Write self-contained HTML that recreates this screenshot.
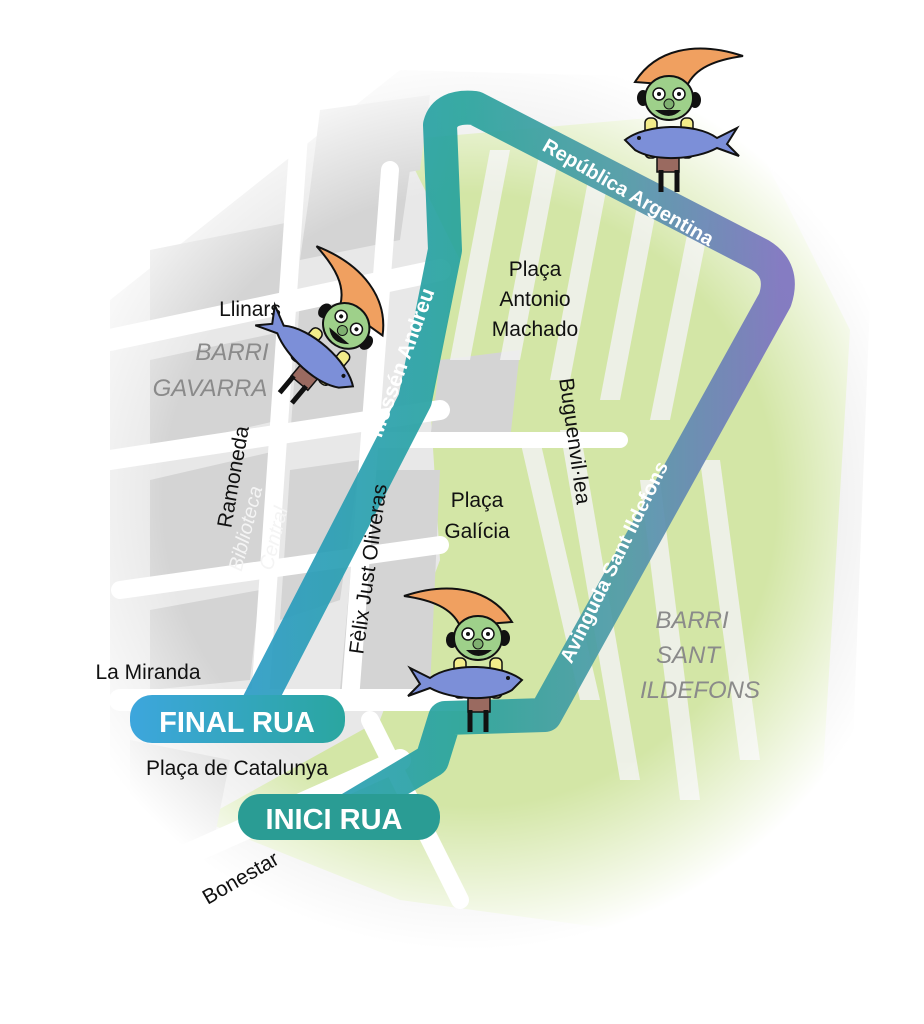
<!DOCTYPE html>
<html><head><meta charset="utf-8"><style>
html,body{margin:0;padding:0;background:#fff;}
svg{display:block}
text{font-family:"Liberation Sans",sans-serif;}
</style></head><body>
<svg width="924" height="1024" viewBox="0 0 924 1024" xmlns="http://www.w3.org/2000/svg">
<defs>
<radialGradient id="fade" cx="470" cy="500" r="450" gradientUnits="userSpaceOnUse">
<stop offset="0.68" stop-color="#fff" stop-opacity="0"/>
<stop offset="1" stop-color="#fff" stop-opacity="1"/>
</radialGradient>
<linearGradient id="route" x1="250" y1="0" x2="780" y2="0" gradientUnits="userSpaceOnUse">
<stop offset="0" stop-color="#2b9bc4"/>
<stop offset="0.4" stop-color="#27a39c"/>
<stop offset="0.7" stop-color="#4f9aa8"/>
<stop offset="1" stop-color="#7c72c0"/>
</linearGradient>
<linearGradient id="fin" x1="0" y1="0" x2="1" y2="0">
<stop offset="0" stop-color="#3da6dd"/><stop offset="1" stop-color="#2aa6a0"/>
</linearGradient>
<g id="gnome">
<path d="M-78,-44 C-30,-60 10,-50 30,-18 L-22,-14 C-30,-32 -50,-40 -78,-44Z" fill="#f0a060" stroke="#111" stroke-width="2"/>
<ellipse cx="-30" cy="0" rx="6" ry="8" fill="#111"/><ellipse cx="22" cy="-2" rx="6" ry="8" fill="#111"/>
<rect x="-28" y="18" width="12" height="40" rx="5" fill="#f2ec8a" stroke="#111" stroke-width="1.5"/>
<rect x="8" y="18" width="12" height="40" rx="5" fill="#f2ec8a" stroke="#111" stroke-width="1.5"/>
<rect x="-14" y="50" width="22" height="22" fill="#9a6a60" stroke="#111" stroke-width="1.5"/>
<path d="M-12,70 L-12,92 M4,70 L4,92" stroke="#111" stroke-width="5"/>
<ellipse cx="-4" cy="-2" rx="24" ry="22" fill="#9ed08a" stroke="#111" stroke-width="2"/>
<circle cx="-14" cy="-6" r="6" fill="#fff" stroke="#111" stroke-width="1.5"/><circle cx="6" cy="-6" r="6" fill="#fff" stroke="#111" stroke-width="1.5"/>
<circle cx="-14" cy="-6" r="2" fill="#111"/><circle cx="6" cy="-6" r="2" fill="#111"/>
<circle cx="-4" cy="4" r="5" fill="#7fb070" stroke="#111" stroke-width="1"/>
<path d="M-16,10 Q-4,22 10,10" fill="#111"/>
<path d="M-62,44 L-72,28 L-52,38 C-30,22 20,24 40,40 L30,50 C10,62 -30,60 -52,48 L-74,56Z" fill="#7c8fd8" stroke="#111" stroke-width="2"/>
<circle cx="26" cy="38" r="2" fill="#111"/>
</g>
</defs>
<rect width="924" height="1024" fill="#fff"/>
<path d="M110,300 L400,70 L770,80 L870,300 L850,820 L640,970 L300,960 L110,840 Z" fill="#e8e8e8"/>
<path d="M400,140 L740,110 L850,330 L820,820 L620,930 L400,900 L200,820 L380,720 L440,560 L430,400 L460,260 Z" fill="#d3e6a6"/>
<g fill="#d4d4d4">
<polygon points="150,250 300,220 290,300 150,330"/>
<polygon points="310,190 410,170 400,240 300,260"/>
<polygon points="150,360 290,330 280,420 150,450"/>
<polygon points="300,300 380,290 370,420 290,440"/>
<polygon points="150,480 280,450 270,560 150,590"/>
<polygon points="290,470 360,460 340,600 280,620"/>
<polygon points="150,610 260,590 250,680 150,690"/>
<polygon points="360,470 440,470 430,690 340,690"/>
<polygon points="320,110 430,95 420,170 310,190"/>
<polygon points="440,360 520,350 510,440 430,440"/>
<polygon points="130,740 230,760 210,860 130,840"/>
</g>
<g fill="#f2f2f2" opacity="0.85">
<polygon points="490,150 510,150 470,360 450,360"/>
<polygon points="540,150 560,150 520,360 500,360"/>
<polygon points="590,170 610,170 570,380 550,380"/>
<polygon points="640,190 660,190 620,400 600,400"/>
<polygon points="690,220 710,220 670,420 650,420"/>
<polygon points="520,440 540,440 600,700 580,700"/>
<polygon points="560,430 580,430 640,780 620,780"/>
<polygon points="640,480 660,480 700,800 680,800"/>
<polygon points="700,460 720,460 760,760 740,760"/>
</g>
<g stroke="#fff" fill="none" stroke-linecap="round">
<path d="M110,340 L440,270" stroke-width="22"/>
<path d="M110,460 L440,410" stroke-width="20"/>
<path d="M120,590 L440,545" stroke-width="18"/>
<path d="M300,120 L260,700" stroke-width="18"/>
<path d="M390,170 L350,700" stroke-width="18"/>
<path d="M120,700 L470,700" stroke-width="22"/>
<path d="M380,440 L620,440" stroke-width="16"/>
<path d="M130,880 L400,760" stroke-width="22"/>
<path d="M370,720 L460,900" stroke-width="18"/>
</g>
<rect width="924" height="1024" fill="url(#fade)"/>
<path d="M255,710 L415,400 L445,250 L440,125 Q445,105 475,108 L760,255 Q785,270 775,300 L545,715 L445,718 L432,760 L340,815" fill="none" stroke="url(#route)" stroke-width="34" stroke-linejoin="round" stroke-linecap="round" opacity="0.92"/>
<rect x="130" y="695" width="215" height="48" rx="22" fill="url(#fin)"/>
<text x="237" y="732" font-size="29" font-weight="bold" fill="#fff" text-anchor="middle">FINAL RUA</text>
<rect x="238" y="794" width="202" height="46" rx="22" fill="#2a9c94"/>
<text x="334" y="829" font-size="29" font-weight="bold" fill="#fff" text-anchor="middle">INICI RUA</text>
<g font-size="21" fill="#111">
<text x="250" y="316" text-anchor="middle">Llinars</text>
<text x="535" y="276" text-anchor="middle">Plaça</text>
<text x="535" y="306" text-anchor="middle">Antonio</text>
<text x="535" y="336" text-anchor="middle">Machado</text>
<text x="477" y="507" text-anchor="middle">Plaça</text>
<text x="477" y="538" text-anchor="middle">Galícia</text>
<text x="148" y="679" text-anchor="middle">La Miranda</text>
<text x="237" y="775" text-anchor="middle">Plaça de Catalunya</text>
<text transform="translate(244,884) rotate(-30)" text-anchor="middle">Bonestar</text>
<text transform="translate(240,478) rotate(-80)" text-anchor="middle">Ramoneda</text>
<text transform="translate(375,570) rotate(-82)" text-anchor="middle">Fèlix Just Oliveras</text>
<text transform="translate(568,442) rotate(82)" text-anchor="middle">Buguenvil·lea</text>
</g>
<g font-size="24" font-style="italic" fill="#8a8a8a" text-anchor="middle">
<text x="232" y="360">BARRI</text>
<text x="210" y="396">GAVARRA</text>
<text x="692" y="628">BARRI</text>
<text x="688" y="663">SANT</text>
<text x="700" y="698">ILDEFONS</text>
</g>
<g font-size="20" font-style="italic" fill="#f4f4f4" text-anchor="middle">
<text transform="translate(252,530) rotate(-76)">Biblioteca</text>
<text transform="translate(280,540) rotate(-76)">Central</text>
</g>
<use href="#gnome" transform="translate(482,640)"/>
<use href="#gnome" transform="translate(665,100) scale(-1,1)"/>
<use href="#gnome" transform="translate(348,330) rotate(40)"/>
<text transform="translate(408,365) rotate(-70)" font-size="21" font-weight="bold" fill="#fff" text-anchor="middle">Mossén Andreu</text>
<text transform="translate(625,198) rotate(30)" font-size="20" font-weight="bold" fill="#fff" text-anchor="middle">República Argentina</text>
<text transform="translate(620,565) rotate(-64)" font-size="20" font-weight="bold" fill="#fff" text-anchor="middle">Avinguda Sant Ildefons</text>
</svg>
</body></html>
